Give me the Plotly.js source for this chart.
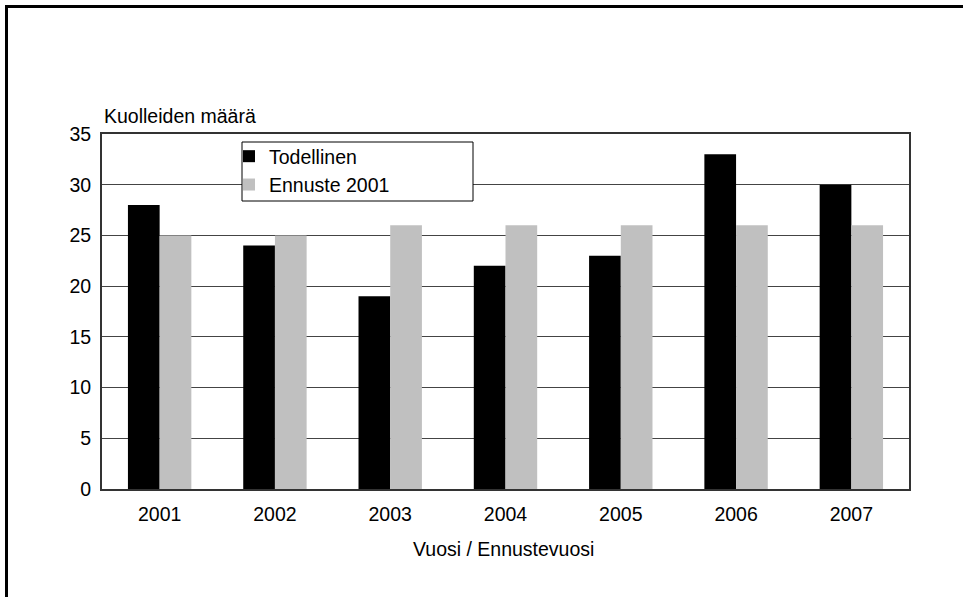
<!DOCTYPE html>
<html>
<head>
<meta charset="utf-8">
<script src="https://cdn.plot.ly/plotly-3.0.1.min.js"></script>
<style>html,body{margin:0;padding:0;background:#fff;}#chart{width:963px;height:597px;}</style>
</head>
<body>
<div id="chart"></div>
<script>
const years = ["2001", "2002", "2003", "2004", "2005", "2006", "2007"];
const todellinen = [28, 24, 19, 22, 23, 33, 30];
const ennuste2001 = [25, 25, 26, 26, 26, 26, 26];
const seriesNames = ["Todellinen", "Ennuste 2001"];
const yTitle = "Kuolleiden määrä";
const xTitle = "Vuosi / Ennustevuosi";

const font = {family: "Liberation Sans, Arial, sans-serif", size: 19.5, color: "#000"};
const L = 102, R = 54, T = 134, B = 108;
const pw = 963 - L - R, ph = 597 - T - B;
const px = v => (v - L) / pw;
const py = v => (597 - B - v) / ph;

const data = [
  {type: "bar", x: years, y: todellinen, name: seriesNames[0], marker: {color: "#000000"}},
  {type: "bar", x: years, y: ennuste2001, name: seriesNames[1], marker: {color: "#c0c0c0"}}
];

const layout = {
  width: 963, height: 597,
  margin: {l: L, r: R, t: T, b: B},
  paper_bgcolor: "#fff", plot_bgcolor: "#fff",
  font: font,
  barmode: "group", bargap: 0.45, bargroupgap: 0,
  xaxis: {
    type: "category", showgrid: false, showline: true, linecolor: "#333", linewidth: 2, mirror: true,
    ticks: "", ticklabelstandoff: 7, tickfont: font, zeroline: false
  },
  yaxis: {
    range: [0, 35], dtick: 5, tick0: 0, showgrid: true, gridcolor: "#444", gridwidth: 1,
    showline: true, linecolor: "#333", linewidth: 2, mirror: true, ticks: "",
    ticklabelstandoff: 5, tickfont: font, zeroline: false
  },
  showlegend: true,
  legend: {
    x: px(229), y: py(137), xanchor: "left", yanchor: "top",
    bgcolor: "rgba(0,0,0,0)", borderwidth: 0,
    font: font, traceorder: "normal", itemwidth: 30
  },
  annotations: [
    {text: yTitle, xref: "paper", yref: "paper", x: 0, y: py(116), xanchor: "left", yanchor: "middle", showarrow: false, font: font},
    {text: xTitle, xref: "paper", yref: "paper", x: px(503), y: py(549), xanchor: "center", yanchor: "middle", showarrow: false, font: font}
  ],
  shapes: [
    {type: "rect", xref: "paper", yref: "paper", x0: px(6.5), x1: px(1100), y0: py(700), y1: py(6.5),
     line: {color: "#000", width: 3}, fillcolor: "rgba(0,0,0,0)", layer: "below"},
    {type: "rect", xref: "paper", yref: "paper", x0: px(242), x1: px(473), y0: py(201), y1: py(142),
     line: {color: "#000", width: 1}, fillcolor: "#ffffff", layer: "above"}
  ]
};

Plotly.newPlot("chart", data, layout, {displayModeBar: false, staticPlot: true});
</script>
</body>
</html>
